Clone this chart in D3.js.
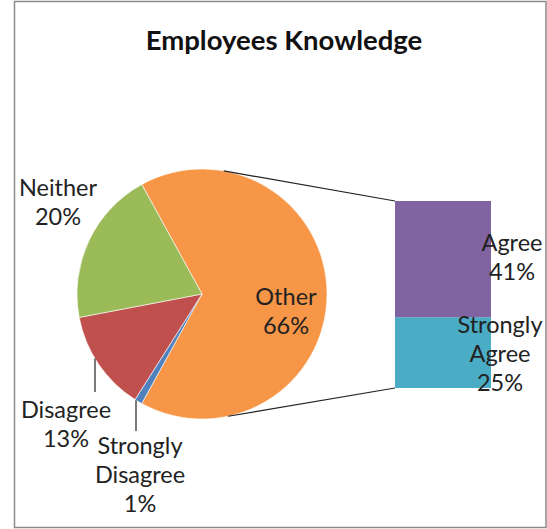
<!DOCTYPE html>
<html>
<head>
<meta charset="utf-8">
<script src="https://cdn.jsdelivr.net/npm/d3@7/dist/d3.min.js"></script>
<style>
  html, body { margin: 0; padding: 0; background: #fff; }
  svg text { font-family: Lato, "Open Sans", sans-serif; }
</style>
</head>
<body>
<svg id="chart" width="547" height="529"></svg>
<script>
// Pie slices (the "Other" slice is broken out into the bar on the right)
const pieCategories = ["Other", "Strongly Disagree", "Disagree", "Neither"];
const pieValues = [66, 1, 13, 20];
const pieColors = ["#F79646", "#4F81BD", "#C0504D", "#9BBB59"];

// Stacked bar breakdown of "Other"
const barCategories = ["Strongly Agree", "Agree"];
const barValues = [25, 41];
const barColors = ["#4BACC6", "#8064A2"];

const svg = d3.select("#chart");

// chart frame
svg.append("rect")
  .attr("x", 14.5).attr("y", 1.5)
  .attr("width", 531.5).attr("height", 526)
  .attr("fill", "#fff").attr("stroke", "#8a8a8a").attr("stroke-width", 1.5);

// title
svg.append("text")
  .attr("x", 284).attr("y", 50)
  .attr("text-anchor", "middle")
  .attr("font-size", 27.5).attr("font-weight", "bold")
  .attr("fill", "#111")
  .text("Employees Knowledge");

// ---- pie ----
const cx = 202, cy = 294, R = 125;
const total = d3.sum(pieValues);
const otherShare = pieValues[0] / total;
// center the "Other" slice on the right-hand side
const start = Math.PI / 2 - otherShare * Math.PI;

const pie = d3.pie().sort(null).startAngle(start).endAngle(start + 2 * Math.PI);
const arcs = pie(pieValues);
const arc = d3.arc().innerRadius(0).outerRadius(R);

const g = svg.append("g").attr("transform", `translate(${cx},${cy})`);
g.selectAll("path.slice")
  .data(arcs)
  .join("path")
  .attr("class", "slice")
  .attr("d", arc)
  .attr("fill", (d, i) => pieColors[i])
  .attr("stroke", "#fff")
  .attr("stroke-width", 0.6);

// ---- bar ----
const barX = 395, barW = 96;
const y = d3.scaleLinear().domain([0, d3.sum(barValues)]).range([388, 201]);
const stacked = [];
let acc = 0;
barValues.forEach((v, i) => { stacked.push({ k: barCategories[i], v, y0: acc, y1: acc + v, c: barColors[i] }); acc += v; });

svg.selectAll("rect.bar")
  .data(stacked)
  .join("rect")
  .attr("class", "bar")
  .attr("x", barX)
  .attr("width", barW)
  .attr("y", d => y(d.y1))
  .attr("height", d => y(d.y0) - y(d.y1))
  .attr("fill", d => d.c);

// connector lines from the pie to the bar
const pt = a => [cx + R * Math.sin(a), cy - R * Math.cos(a)];
const topPt = pt(10 * Math.PI / 180), botPt = pt(168 * Math.PI / 180);
svg.append("line")
  .attr("x1", topPt[0]).attr("y1", topPt[1])
  .attr("x2", barX).attr("y2", y(acc))
  .attr("stroke", "#222").attr("stroke-width", 1.2);
svg.append("line")
  .attr("x1", botPt[0]).attr("y1", botPt[1])
  .attr("x2", barX).attr("y2", y(0))
  .attr("stroke", "#222").attr("stroke-width", 1.2);

// ---- labels ----
const FS = 23.5, LH = 29;
function label(lines, x, yTop) {
  const t = svg.append("text")
    .attr("text-anchor", "middle")
    .attr("font-size", FS)
    .attr("fill", "#222");
  lines.forEach((s, i) => {
    t.append("tspan").attr("x", x).attr("y", yTop + i * LH).text(s);
  });
}
const pct = v => Math.round(v / total * 100) + "%";

// leader lines for the small slices
function leader(x, y2) {
  const dx = x - cx;
  const y1 = cy + Math.sqrt(R * R - dx * dx);
  svg.append("line")
    .attr("x1", x).attr("y1", y1).attr("x2", x).attr("y2", y2)
    .attr("stroke", "#222").attr("stroke-width", 1.2);
}
leader(95, 392);
leader(136, 431);

label([pieCategories[0], pct(pieValues[0])], cx + 84, 305);
label([pieCategories[3], pct(pieValues[3])], 58, 196);
label(["Disagree", pct(pieValues[2])], 66, 418);
label(["Strongly", "Disagree", pct(pieValues[1])], 140, 454);
label(["Agree", pct(barValues[1])], 512, 251);
label(["Strongly", "Agree", pct(barValues[0])], 500, 333);
</script>
</body>
</html>
